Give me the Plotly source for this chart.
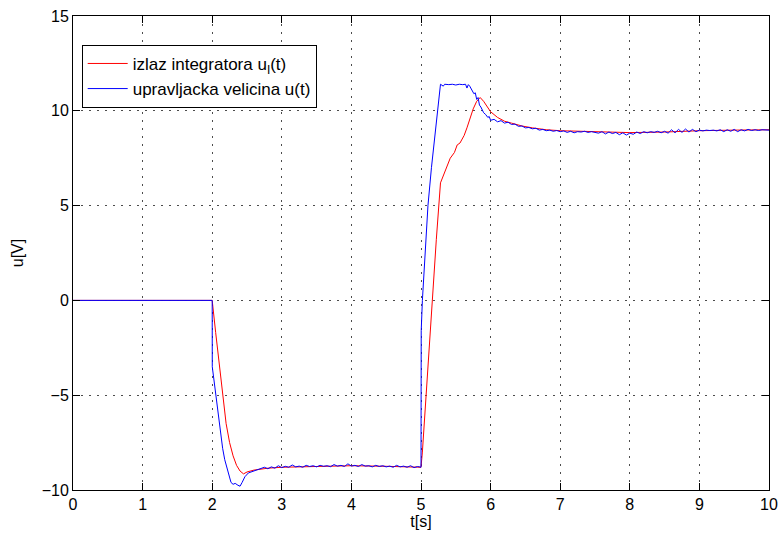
import plotly.graph_objects as go

# integrator output u_I(t)
t_red = [0, 2.0, 2.05, 2.1, 2.15, 2.2, 2.25, 2.3, 2.35, 2.4, 2.45, 2.5, 2.6, 2.7, 2.8,
         3.0, 3.5, 4.0, 4.5, 5.0, 5.02, 5.1, 5.16, 5.22, 5.28, 5.32, 5.38, 5.42, 5.48,
         5.52, 5.56, 5.62, 5.66, 5.70, 5.75, 5.80, 5.85, 5.9, 5.95, 6.0, 6.1, 6.2, 6.3,
         6.45, 6.6, 6.8, 7.0, 7.5, 8.0, 8.5, 9.0, 9.5, 10.0]
u_red = [0, 0, -1.7, -3.3, -5.0, -6.5, -7.5, -8.2, -8.7, -9.0, -9.15, -9.05, -8.95, -8.9, -8.85,
         -8.8, -8.75, -8.72, -8.75, -8.8, -8.0, -3.4, -0.1, 3.2, 6.2, 6.6, 7.1, 7.5, 7.8,
         8.2, 8.3, 8.7, 9.1, 9.6, 10.1, 10.5, 10.7, 10.5, 10.2, 9.95, 9.65, 9.45, 9.35,
         9.2, 9.1, 9.0, 8.95, 8.9, 8.85, 8.88, 8.95, 8.98, 9.0]

# control signal u(t)
t_blue = [0, 2.0, 2.001, 2.05, 2.1, 2.15, 2.18, 2.22, 2.27, 2.3, 2.33, 2.37, 2.4, 2.43, 2.47, 2.52, 2.56,
          2.60, 2.65, 2.70, 2.75, 2.80, 2.85, 2.90, 2.95, 3.00, 3.05, 3.10, 3.15, 3.20, 3.25,
          3.30, 3.35, 3.40, 3.45, 3.50, 3.55, 3.60, 3.65, 3.70, 3.75, 3.80, 3.85, 3.90, 3.95,
          4.00, 4.05, 4.10, 4.15, 4.20, 4.25, 4.30, 4.35, 4.40, 4.45, 4.50, 4.55, 4.60, 4.65,
          4.70, 4.75, 4.80, 4.85, 4.90, 4.95, 5.00,
          5.003, 5.02, 5.06, 5.10, 5.15, 5.20, 5.25, 5.28, 5.32, 5.34, 5.40, 5.45, 5.50, 5.55,
          5.60, 5.64, 5.66, 5.68, 5.70, 5.73, 5.76, 5.78, 5.80, 5.82, 5.84, 5.86, 5.88, 5.90,
          5.93, 5.96, 5.98,
          6.00, 6.05, 6.10, 6.15, 6.20, 6.25, 6.30, 6.35, 6.40, 6.45, 6.50, 6.55, 6.60, 6.65,
          6.70, 6.75, 6.80, 6.85, 6.90, 6.95, 7.00, 7.05, 7.10, 7.15, 7.20, 7.25, 7.30, 7.35,
          7.40, 7.45, 7.50, 7.55, 7.60, 7.65, 7.70, 7.75, 7.80, 7.85, 7.90, 7.95, 8.00, 8.05,
          8.10, 8.15, 8.20, 8.25, 8.30, 8.35, 8.40, 8.45, 8.50, 8.55, 8.60, 8.65, 8.70, 8.75,
          8.80, 8.85, 8.90, 8.95, 9.00, 9.05, 9.10, 9.15, 9.20, 9.25, 9.30, 9.35, 9.40, 9.45,
          9.50, 9.55, 9.60, 9.65, 9.70, 9.75, 9.80, 9.85, 9.90, 9.95, 10.00]
u_blue = [0, 0, -3.5, -5.0, -6.5, -7.8, -8.4, -9.0, -9.6, -9.7, -9.65, -9.75, -9.8, -9.6, -9.3, -9.1, -9.05,
          -9.00, -8.95, -8.90, -8.80, -8.88, -8.78, -8.85, -8.72, -8.82, -8.75, -8.80, -8.68, -8.78, -8.74,
          -8.80, -8.70, -8.76, -8.72, -8.78, -8.70, -8.75, -8.72, -8.77, -8.66, -8.74, -8.70, -8.76, -8.62,
          -8.74, -8.70, -8.76, -8.66, -8.74, -8.72, -8.78, -8.70, -8.76, -8.72, -8.78, -8.74, -8.80, -8.70,
          -8.78, -8.74, -8.80, -8.72, -8.82, -8.76, -8.80,
          -1.6, 0.0, 2.8, 5.0, 7.0, 8.7, 10.4, 11.4, 11.30, 11.40, 11.38, 11.40, 11.36, 11.40,
          11.38, 11.40, 11.20, 11.38, 11.30, 11.10, 10.90, 10.95, 10.60, 10.70, 10.30, 10.20, 10.00, 9.90,
          9.80, 9.65, 9.70,
          9.50, 9.55, 9.42, 9.48, 9.35, 9.40, 9.28, 9.30, 9.18, 9.20, 9.10, 9.12, 9.05, 9.08,
          8.98, 9.02, 8.95, 8.98, 8.92, 8.96, 8.90, 8.94, 8.86, 8.92, 8.84, 8.90, 8.88, 8.92,
          8.86, 8.90, 8.88, 8.82, 8.90, 8.78, 8.88, 8.80, 8.86, 8.74, 8.84, 8.72, 8.82, 8.76,
          8.88, 8.80, 8.90, 8.84, 8.90, 8.86, 8.92, 8.84, 8.92, 8.82, 9.00, 8.84, 9.02, 8.86,
          9.04, 8.88, 9.02, 8.90, 8.98, 8.94, 8.98, 8.96, 8.98, 8.94, 9.00, 8.90, 9.00, 8.92,
          9.02, 8.90, 9.00, 8.94, 9.02, 8.96, 9.00, 8.96, 9.00, 8.98, 8.98]

x_ticks = [0, 1, 2, 3, 4, 5, 6, 7, 8, 9, 10]
y_ticks = [-10, -5, 0, 5, 10, 15]

FONT = "Liberation Sans, Arial, Helvetica, sans-serif"

fig = go.Figure()
fig.add_trace(go.Scatter(x=t_red, y=u_red, mode="lines", name="izlaz integratora u<sub>I</sub>(t)",
                         legendgroup="a", line=dict(color="#ff0000", width=1)))
fig.add_trace(go.Scatter(x=t_blue, y=u_blue, mode="lines", name="upravljacka velicina u(t)",
                         legendgroup="b", line=dict(color="#0000ff", width=1)))

axis_common = dict(
    showline=True, linecolor="black", linewidth=1, mirror="allticks",
    ticks="inside", ticklen=7, tickcolor="black", tickwidth=1,
    showgrid=True, gridcolor="rgba(0,0,0,0.7)", griddash="1.5px,6.5px", gridwidth=1,
    zeroline=False, automargin=False,
    tickfont=dict(size=16, color="black", family=FONT),
)

fig.update_xaxes(range=[0, 10], tickvals=x_ticks, ticktext=[str(v) for v in x_ticks],
                 title=dict(text="t[s]", font=dict(size=16, color="black", family=FONT), standoff=2),
                 **axis_common)
fig.update_yaxes(range=[-10, 15], tickvals=y_ticks,
                 ticktext=[("\u2212" + str(-v)) if v < 0 else str(v) for v in y_ticks],
                 title=dict(text="u[V]", font=dict(size=16, color="black", family=FONT), standoff=14),
                 **axis_common)

fig.update_layout(
    width=781, height=538,
    margin=dict(l=73, r=12, t=16, b=48),
    paper_bgcolor="white", plot_bgcolor="white",
    font=dict(family=FONT, size=16, color="black"),
    showlegend=True,
    legend=dict(x=0.0125, y=0.939, xanchor="left", yanchor="top",
                bgcolor="white", bordercolor="black", borderwidth=1,
                font=dict(size=17, color="black", family=FONT),
                tracegroupgap=0, itemwidth=40),
)

fig.write_html("out.html")
